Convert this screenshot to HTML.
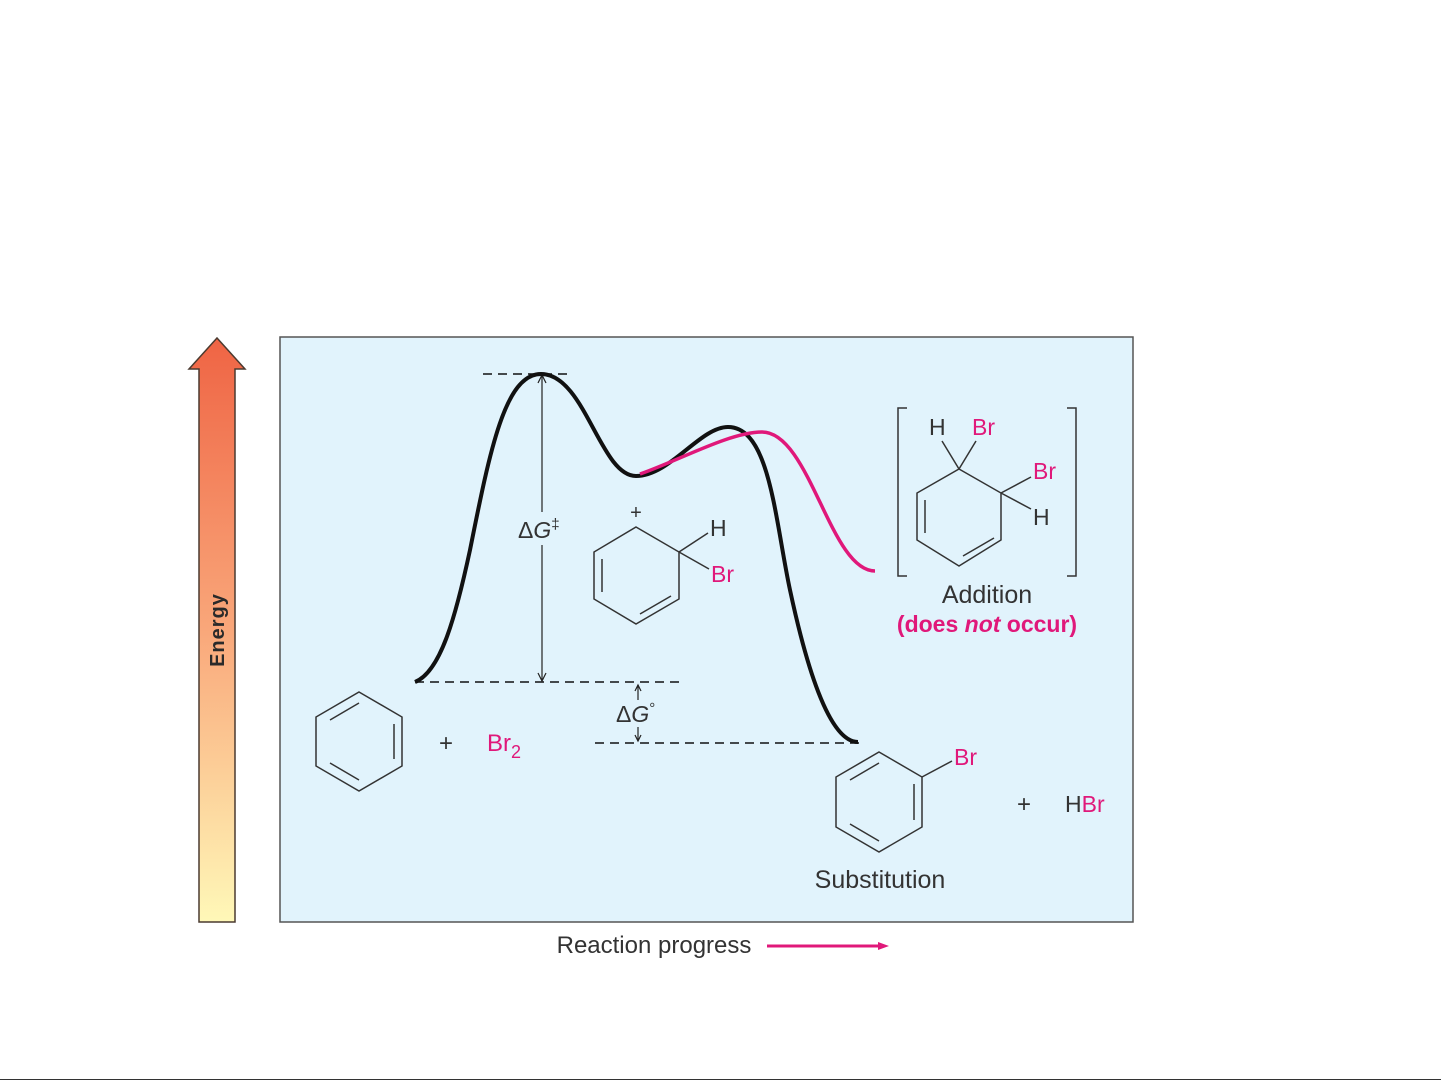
<!DOCTYPE html>
<html><head><meta charset="utf-8"><style>
html,body{margin:0;padding:0;background:#fff;}
svg{display:block;}
text{font-family:"Liberation Sans",sans-serif;}
</style></head><body>
<svg width="1441" height="1081" viewBox="0 0 1441 1081" xmlns="http://www.w3.org/2000/svg">
<defs>
<linearGradient id="eg" x1="0" y1="0" x2="0" y2="1">
<stop offset="0" stop-color="#ef6444"/>
<stop offset="0.5" stop-color="#f9a77a"/>
<stop offset="1" stop-color="#fff8b8"/>
</linearGradient>
</defs>
<rect width="1441" height="1081" fill="#fff"/>
<polygon points="217,338 245,369 235,369 235,922 199,922 199,369 189,369" fill="url(#eg)" stroke="#4a3a30" stroke-width="1.5"/>
<text transform="translate(224,630) rotate(-90)" text-anchor="middle" font-size="20" font-weight="bold" fill="#2a2a2a" letter-spacing="1">Energy</text>
<rect x="280" y="337" width="853" height="585" fill="#e1f3fc" stroke="#555" stroke-width="1.5"/>
<g stroke="#111" stroke-width="1.4" stroke-dasharray="9,6" fill="none">
<line x1="483" y1="374" x2="570" y2="374"/>
<line x1="415" y1="682" x2="684" y2="682"/>
<line x1="595" y1="743" x2="860" y2="743"/>
</g>
<g stroke="#222" stroke-width="1.2" fill="none">
<line x1="542" y1="376" x2="542" y2="512"/>
<line x1="542" y1="545" x2="542" y2="680"/>
<polyline points="538,383 542,375 546,383"/>
<polyline points="538,673 542,681 546,673"/>
<line x1="638" y1="685" x2="638" y2="700"/>
<polyline points="635,691 638,685 641,691"/>
<line x1="638" y1="727" x2="638" y2="741"/>
<polyline points="635,735 638,741 641,735"/>
</g>
<text x="518" y="538" font-size="23" fill="#333">Δ<tspan font-style="italic">G</tspan><tspan font-size="15" dy="-9">‡</tspan></text>
<text x="616" y="722" font-size="23" fill="#333">Δ<tspan font-style="italic">G</tspan><tspan font-size="15" dy="-9">°</tspan></text>
<path d="M415,682 C440,672 455,620 470,550 C490,450 505,374 541,374 C585,374 600,476 636,476 C670,476 700,427 728,427 C770,427 775,520 790,590 C805,660 828,742 858,742" fill="none" stroke="#111" stroke-width="4"/>
<path d="M640,474 C680,460 730,432 762,432 C810,432 830,571 875,571" fill="none" stroke="#e0187a" stroke-width="3.5"/>
<g stroke="#333" stroke-width="1.5" fill="none">
<polygon points="359,692 402,717 402,766 359,791 316,766 316,717"/>
<line x1="394" y1="724" x2="394" y2="759"/>
<line x1="330" y1="720" x2="359" y2="703"/>
<line x1="330" y1="763" x2="359" y2="780"/>
</g>
<text x="446" y="751" font-size="24" fill="#333" text-anchor="middle">+</text>
<text x="487" y="751" font-size="24" fill="#e0187a">Br<tspan font-size="18" dy="7">2</tspan></text>
<g stroke="#333" stroke-width="1.5" fill="none">
<polygon points="636,527 679,552 679,599 636,624 594,599 594,552"/>
<line x1="602" y1="559" x2="602" y2="592"/>
<line x1="640" y1="614" x2="671" y2="596"/>
<line x1="679" y1="552" x2="708" y2="533"/>
<line x1="679" y1="552" x2="709" y2="569"/>
</g>
<text x="636" y="519" font-size="20" fill="#333" text-anchor="middle">+</text>
<text x="710" y="536" font-size="23" fill="#333">H</text>
<text x="711" y="582" font-size="23" fill="#e0187a">Br</text>
<g stroke="#333" stroke-width="1.5" fill="none">
<polyline points="907,408 898,408 898,576 907,576"/>
<polyline points="1067,408 1076,408 1076,576 1067,576"/>
<polygon points="959,469 1001,493 1001,540 959,566 917,540 917,493"/>
<line x1="925" y1="500" x2="925" y2="533"/>
<line x1="963" y1="556" x2="994" y2="538"/>
<line x1="959" y1="469" x2="942" y2="441"/>
<line x1="959" y1="469" x2="976" y2="441"/>
<line x1="1001" y1="493" x2="1031" y2="477"/>
<line x1="1001" y1="493" x2="1031" y2="509"/>
</g>
<text x="929" y="435" font-size="23" fill="#333">H</text>
<text x="972" y="435" font-size="23" fill="#e0187a">Br</text>
<text x="1033" y="479" font-size="23" fill="#e0187a">Br</text>
<text x="1033" y="525" font-size="23" fill="#333">H</text>
<text x="987" y="603" font-size="25" fill="#333" text-anchor="middle">Addition</text>
<text x="987" y="632" font-size="23" fill="#e0187a" font-weight="bold" text-anchor="middle">(does <tspan font-style="italic">not</tspan> occur)</text>
<g stroke="#333" stroke-width="1.5" fill="none">
<polygon points="879,752 922,777 922,827 879,852 836,827 836,777"/>
<line x1="914" y1="784" x2="914" y2="820"/>
<line x1="850" y1="780" x2="879" y2="763"/>
<line x1="850" y1="824" x2="879" y2="841"/>
<line x1="922" y1="777" x2="952" y2="761"/>
</g>
<text x="954" y="765" font-size="23" fill="#e0187a">Br</text>
<text x="1024" y="812" font-size="24" fill="#333" text-anchor="middle">+</text>
<text x="1065" y="812" font-size="23" fill="#333">H<tspan fill="#e0187a">Br</tspan></text>
<text x="880" y="888" font-size="25" fill="#333" text-anchor="middle">Substitution</text>
<text x="654" y="953" font-size="24" fill="#333" text-anchor="middle">Reaction progress</text>
<line x1="767" y1="946" x2="880" y2="946" stroke="#e0187a" stroke-width="3"/>
<polygon points="878,942 889,946 878,950" fill="#e0187a"/>
<line x1="0" y1="1079.5" x2="1441" y2="1079.5" stroke="#333" stroke-width="1"/>
</svg>
</body></html>
